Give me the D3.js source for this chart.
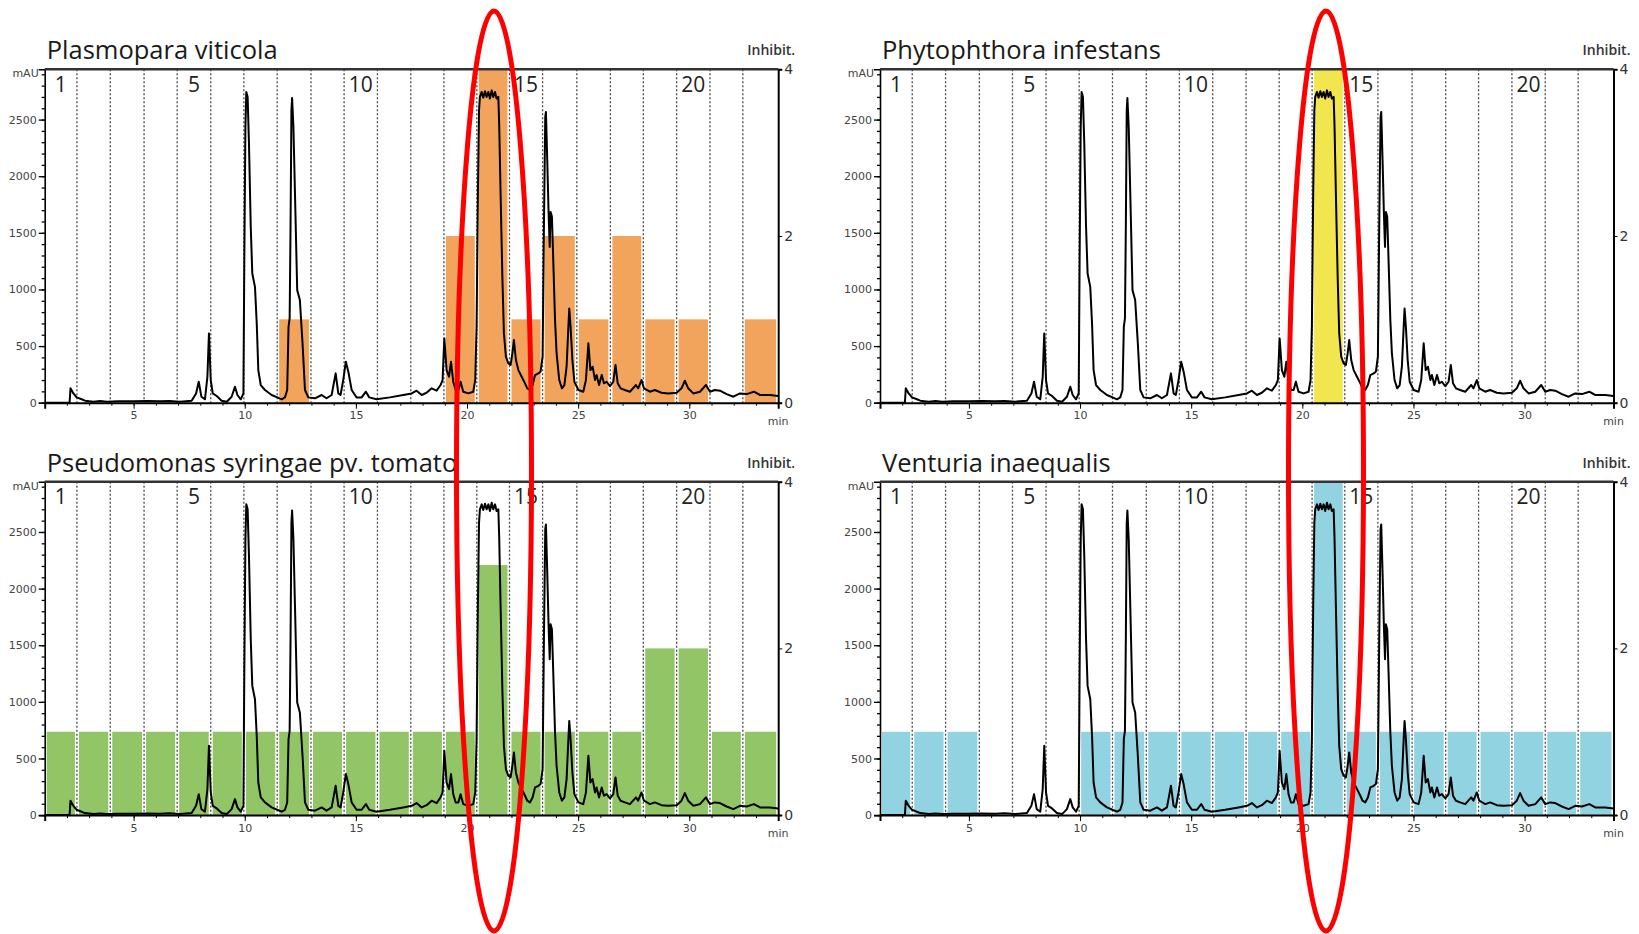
<!DOCTYPE html>
<html>
<head>
<meta charset="utf-8">
<script src="https://cdn.jsdelivr.net/npm/d3@7"></script>
<style>
  body { margin: 0; background: #fff; }
  .title { font-family: "Open Sans", sans-serif; font-size: 25.5px; fill: #1a1a1a; }
  .inhibLabel { font-family: "Open Sans", sans-serif; font-size: 14px; font-weight: 600; fill: #333; }
  .fracLabel { font-family: "Open Sans", sans-serif; font-size: 21px; fill: #222; }
  .axisText { font-family: "DejaVu Sans", sans-serif; font-size: 11px; fill: #444; }
  .rightText { font-family: "DejaVu Sans", sans-serif; font-size: 14px; fill: #333; }
</style>
</head>
<body>
<div id="chart"></div>
<script>
// chromatogram (same extract in all four assays), time in min / absorbance in mAU
var traceTime = [1.0, 2.12, 2.16, 2.29, 2.44, 2.66, 2.81, 3.19, 3.5, 3.79, 4.3, 4.99, 5.59, 6.19, 6.6, 7.09, 7.61, 7.81, 7.93, 8.05,
  8.21, 8.32, 8.39, 8.47, 8.56, 8.74, 8.96, 9.19, 9.41, 9.56, 9.67, 9.82, 9.94, 9.98, 10.03, 10.07, 10.13, 10.19, 10.27, 10.34,
  10.46, 10.54, 10.61, 10.72, 10.91, 11.21, 11.46, 11.66, 11.81, 11.91, 11.97, 12.02, 12.06, 12.1, 12.13, 12.19, 12.26, 12.36, 12.48, 12.6,
  12.71, 12.86, 13.16, 13.46, 13.68, 13.91, 14.09, 14.21, 14.31, 14.43, 14.55, 14.66, 14.81, 15.03, 15.26, 15.45, 15.6, 15.93, 16.53, 17.13,
  17.51, 17.73, 17.96, 18.18, 18.41, 18.63, 18.81, 18.9, 18.98, 19.08, 19.19, 19.28, 19.38, 19.49, 19.61, 19.71, 19.83, 20.06, 20.28, 20.37,
  20.43, 20.49, 20.54, 20.58, 20.66, 20.73, 20.81, 20.88, 20.96, 21.03, 21.11, 21.18, 21.26, 21.33, 21.41, 21.45, 21.51, 21.59, 21.66, 21.75,
  21.86, 21.96, 22.04, 22.11, 22.2, 22.31, 22.46, 22.61, 22.71, 22.83, 22.95, 23.06, 23.21, 23.31, 23.4, 23.46, 23.52, 23.55, 23.61, 23.67,
  23.72, 23.76, 23.82, 23.88, 23.96, 24.03, 24.15, 24.27, 24.38, 24.48, 24.56, 24.6, 24.66, 24.74, 24.83, 25.01, 25.23, 25.35, 25.46, 25.55,
  25.65, 25.76, 25.83, 25.94, 26.06, 26.16, 26.28, 26.43, 26.58, 26.68, 26.78, 26.91, 27.1, 27.33, 27.6, 27.7, 27.85, 27.96, 28.23, 28.45,
  28.75, 29.05, 29.43, 29.65, 29.8, 29.95, 30.18, 30.48, 30.75, 30.93, 31.15, 31.38, 31.68, 31.98, 32.28, 32.58, 32.91, 33.18, 33.63, 34.0];
var traceMAU = [0, 0, 127, 82, 47, 30, 18, 9, 14, 9, 12, 12, 15, 12, 16, 9, 18, 82, 185, 53,
  30, 229, 612, 200, 82, 59, 18, 9, 53, 141, 68, 30, 82, 1259, 2435, 2744, 2700, 2288, 1553, 1141,
  1023, 700, 288, 156, 112, 68, 47, 30, 47, 112, 670, 744, 1553, 2582, 2690, 2435, 1847, 994, 906, 524,
  112, 47, 39, 68, 39, 68, 259, 82, 68, 200, 362, 274, 112, 47, 47, 97, 47, 30, 47, 68,
  82, 106, 68, 88, 127, 106, 156, 200, 568, 288, 229, 362, 185, 112, 112, 185, 97, 82, 97, 200,
  670, 1847, 2582, 2700, 2744, 2694, 2750, 2700, 2744, 2685, 2758, 2700, 2744, 2685, 2700, 2435, 1847, 1112, 612, 406,
  347, 333, 435, 553, 377, 288, 229, 171, 127, 112, 156, 244, 259, 274, 406, 1553, 2523, 2567, 2141, 1670,
  1376, 1685, 1641, 1259, 729, 435, 200, 127, 156, 318, 670, 832, 670, 377, 185, 112, 97, 200, 524, 288,
  318, 200, 244, 156, 244, 171, 185, 147, 185, 333, 171, 127, 112, 97, 156, 127, 200, 127, 97, 112,
  88, 82, 88, 127, 194, 127, 82, 97, 156, 97, 112, 106, 76, 53, 82, 76, 97, 68, 68, 59];

// fraction borders (min), fractions 1..22
var fractionBounds = [1.0, 2.45, 3.95, 5.47, 6.96, 8.47, 9.96, 11.46, 12.98, 14.47, 15.97, 17.47, 18.96, 20.44, 21.91, 23.4,
  24.94, 26.45, 27.93, 29.43, 30.93, 32.41, 34.0];
var fractionNames = [1, 5, 10, 15, 20];

// inhibition score per fraction (0-4)
var titles = ["Plasmopara viticola", "Phytophthora infestans", "Pseudomonas syringae pv. tomato", "Venturia inaequalis"];
var inhibPlasmopara   = [0,0,0,0,0,0,0,1,0,0,0,0,2,4,1,2,1,2,1,1,0,1];
var inhibPhytophthora = [0,0,0,0,0,0,0,0,0,0,0,0,0,4,0,0,0,0,0,0,0,0];
var inhibPseudomonas  = [1,1,1,1,1,1,1,1,1,1,1,1,1,3,1,1,1,1,2,2,1,1];
var inhibVenturia     = [1,1,1,0,0,0,1,1,1,1,1,1,1,4,1,1,1,1,1,1,1,1];
var barColors = ["#f2a45c", "#f2e64e", "#92c565", "#92d3e1"];

var mauTicks = [0, 500, 1000, 1500, 2000, 2500];
var minTicks = [5, 10, 15, 20, 25, 30];
var inhibTicks = [0, 2, 4];

var svgWidth = 1639;
var svgHeight = 934;

// plot size & panel origins
var width = 733.5;
var height = 333.4;
var panelX = [44.7, 880, 44.7, 880];
var panelY = [69.3, 69.3, 481.7, 481.7];

var svg = d3.select("#chart")
  .append("svg")
  .attr("width", svgWidth)
  .attr("height", svgHeight);

var xScale = d3.scaleLinear().domain([1, 34]).range([0, width]);
var yScale = d3.scaleLinear().domain([0, 2944]).range([height, 0]);
var yRight = d3.scaleLinear().domain([0, 4]).range([height, 0]);

var trace = traceTime.map(function(t, i) { return [t, traceMAU[i]]; });
var lineGen = d3.line()
  .x(d => xScale(d[0]))
  .y(d => yScale(d[1]));

var allInhib = [inhibPlasmopara, inhibPhytophthora, inhibPseudomonas, inhibVenturia];

titles.forEach(function(title, p) {
  var g = svg.append("g")
    .attr("transform", `translate(${panelX[p]}, ${panelY[p]})`);

  // bars: inhibition per fraction
  var fracs = allInhib[p].map(function(v, i) {
    return { v: v, x0: fractionBounds[i], x1: fractionBounds[i + 1] };
  });
  g.selectAll(".bar")
    .data(fracs.filter(d => d.v > 0))
    .enter()
    .append("rect")
    .attr("x", d => xScale(d.x0) + 2)
    .attr("width", d => xScale(d.x1) - xScale(d.x0) - 4)
    .attr("y", d => yRight(d.v))
    .attr("height", d => height - yRight(d.v))
    .attr("fill", barColors[p]);

  // dotted fraction borders
  g.selectAll(".fracLine")
    .data(fractionBounds.slice(1, -1))
    .enter()
    .append("line")
    .attr("x1", d => xScale(d))
    .attr("x2", d => xScale(d))
    .attr("y1", 0)
    .attr("y2", height)
    .attr("stroke", "#4a4a4a")
    .attr("stroke-width", 1.3)
    .attr("stroke-dasharray", "2,2");

  // fraction numbers
  g.selectAll(".fracLabel")
    .data(fractionNames)
    .enter()
    .append("text")
    .attr("class", "fracLabel")
    .attr("text-anchor", "middle")
    .attr("x", d => (xScale(fractionBounds[d - 1]) + xScale(fractionBounds[d])) / 2)
    .attr("y", 22.5)
    .text(d => d);

  // chromatogram
  g.append("path")
    .datum(trace)
    .attr("fill", "none")
    .attr("stroke", "#000")
    .attr("stroke-width", 2)
    .attr("stroke-linejoin", "round")
    .attr("d", lineGen);

  // left axis: major + minor ticks
  var leftMinor = g.append("g")
    .call(d3.axisLeft(yScale).tickValues(d3.range(0, 2901, 100)).tickSize(3).tickFormat(""));
  leftMinor.select(".domain").remove();
  var leftAxis = g.append("g")
    .call(d3.axisLeft(yScale).tickValues(mauTicks).tickSize(6).tickPadding(2).tickFormat(d3.format("d")));
  leftAxis.selectAll("text").attr("class", "axisText").attr("font-size", null).attr("font-family", null);
  leftAxis.select(".domain").attr("stroke-width", 1.6);
  g.selectAll(".tick line").attr("stroke-width", 1.3);
  g.append("text")
    .attr("class", "axisText")
    .attr("text-anchor", "end")
    .attr("x", -6)
    .attr("y", 8)
    .text("mAU");

  // bottom axis
  var botMinor = g.append("g")
    .attr("transform", `translate(0, ${height})`)
    .call(d3.axisBottom(xScale).tickValues(d3.range(2, 34, 1)).tickSize(3).tickFormat(""));
  botMinor.select(".domain").remove();
  var bottomAxis = g.append("g")
    .attr("transform", `translate(0, ${height})`)
    .call(d3.axisBottom(xScale).tickValues(minTicks).tickSize(6).tickPadding(3).tickFormat(d3.format("d")));
  bottomAxis.selectAll("text").attr("class", "axisText").attr("font-size", null).attr("font-family", null);
  bottomAxis.select(".domain").attr("stroke-width", 2);
  g.append("text")
    .attr("class", "axisText")
    .attr("text-anchor", "middle")
    .attr("x", width)
    .attr("y", height + 22)
    .text("min");

  // right axis (inhibition)
  var rightAxis = g.append("g")
    .attr("transform", `translate(${width}, 0)`)
    .call(d3.axisRight(yRight).tickValues(inhibTicks).tickSize(4).tickPadding(2).tickFormat(d3.format("d")));
  rightAxis.selectAll("text").attr("class", "rightText").attr("font-size", null).attr("font-family", null);
  rightAxis.select(".domain").attr("stroke-width", 2);

  // top frame
  g.append("line")
    .attr("x1", 0).attr("x2", width)
    .attr("y1", 0).attr("y2", 0)
    .attr("stroke", "#333")
    .attr("stroke-width", 2.6);

  // labels
  g.append("text")
    .attr("class", "title")
    .attr("x", 2)
    .attr("y", -10)
    .text(title);
  g.append("text")
    .attr("class", "inhibLabel")
    .attr("text-anchor", "end")
    .attr("x", width + 17)
    .attr("y", -14)
    .text("Inhibit.");
});

// red highlight around fraction 14
var ellipseCx = [494, 1326];
svg.selectAll(".mark")
  .data(ellipseCx)
  .enter()
  .append("ellipse")
  .attr("cx", d => d)
  .attr("cy", 471)
  .attr("rx", 37.5)
  .attr("ry", 460)
  .attr("fill", "none")
  .attr("stroke", "#ff0000")
  .attr("stroke-width", 5);
</script>
</body>
</html>
